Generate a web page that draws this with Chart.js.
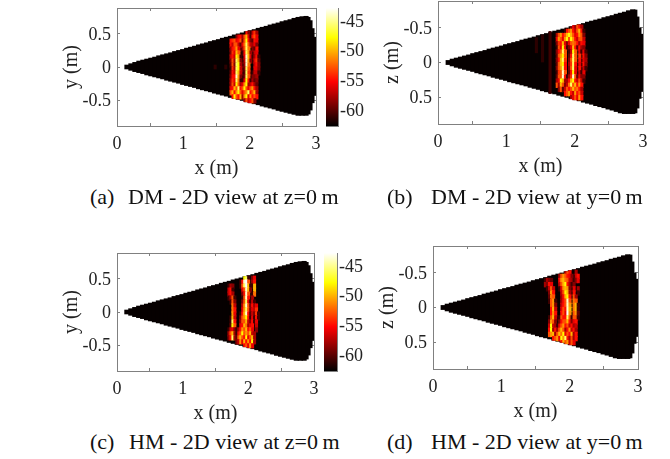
<!DOCTYPE html>
<html><head><meta charset="utf-8">
<style>
html,body{margin:0;padding:0;background:#fff;width:670px;height:459px;overflow:hidden}
canvas{position:absolute;display:block}
.cap{position:absolute;font:22px "Liberation Serif",serif;color:#111;white-space:pre;line-height:24px}
</style>
<script src="https://cdn.jsdelivr.net/npm/chart.js@4"></script>
</head><body>
<script>
// ---- data ----
const xTicks=[0,1,2,3];
const yTicks=[-0.5,0,0.5];
const cbTicks=[-60,-55,-50,-45];
const cbMin=-62.8, cbMax=-42.9;
const coneX=[0.15,0.21,0.27,0.33,0.39,0.45,0.51,0.57,0.63,0.69,0.75,0.81,0.87,0.93,0.99,1.05,1.11,1.17,1.23,1.29,1.35,1.41,1.47,1.53,1.59,1.65,1.71,1.77,1.83,1.89,1.95,2.01,2.07,2.13,2.19,2.25,2.31,2.37,2.43,2.49,2.55,2.61,2.67,2.73,2.79,2.85];
const coneUpperXY=[.03,.05,.07,.09,.105,.12,.135,.15,.17,.185,.20,.215,.235,.25,.265,.285,.30,.315,.335,.35,.365,.385,.40,.415,.435,.45,.465,.485,.50,.515,.535,.55,.565,.585,.60,.615,.635,.65,.665,.685,.70,.715,.735,.75,.76,.765];
const coneLowerXY=[.03,.05,.07,.085,.10,.12,.135,.15,.165,.18,.20,.215,.23,.245,.265,.28,.295,.31,.33,.345,.36,.375,.395,.41,.425,.44,.46,.475,.49,.505,.525,.54,.555,.57,.59,.605,.62,.635,.655,.67,.685,.70,.715,.73,.73,.73];
const coneUpperXZ=[.03,.05,.065,.08,.095,.11,.13,.145,.16,.175,.195,.21,.225,.24,.26,.275,.29,.305,.325,.34,.355,.37,.39,.405,.42,.435,.455,.47,.485,.50,.52,.535,.55,.565,.585,.60,.615,.63,.65,.665,.68,.70,.715,.73,.75,.765];
const coneLowerXZ=[.03,.05,.07,.085,.10,.115,.13,.15,.165,.18,.195,.215,.23,.245,.26,.28,.295,.31,.325,.34,.36,.375,.39,.41,.425,.44,.455,.475,.49,.505,.525,.54,.555,.575,.59,.605,.625,.64,.655,.675,.69,.71,.73,.74,.74,.74];
const tailX=[2.895,2.925,2.955,2.985];
const tailUpperXY=[.75,.70,.58,.45];
const tailLowerXY=[.71,.65,.54,.43];
const tailUpperXZ=[.76,.66,.50,.41];
const tailLowerXZ=[.73,.66,.52,.42];
const hotA=[
[-62,-62,-62,-62,-62,-62,-62,-62,-62,-55,-59,-62,-57,-54,-58,-62],
[-62,-62,-62,-62,-59,-56,-55,-58,-53,-50,-56,-61,-55,-53,-56,-62],
[-62,-55,-54,-53,-56,-55,-53,-59,-53,-48,-55,-59,-60,-55,-56,-62],
[-62,-55,-57,-53,-53,-57,-60,-56,-52,-46,-53,-57,-58,-56,-59,-62],
[-62,-58,-55,-54,-51,-56,-62,-58,-53,-46,-52,-62,-59,-60,-55,-62],
[-62,-59,-54,-56,-50,-53,-62,-61,-55,-46,-51,-58,-62,-57,-56,-62],
[-62,-57,-55,-57,-48,-51,-61,-62,-56,-44,-50,-56,-61,-58,-55,-61],
[-62,-59,-53,-58,-46,-50,-59,-62,-57,-44,-51,-59,-62,-56,-54,-60],
[-62,-60,-53,-59,-46,-48,-58,-62,-58,-44,-52,-62,-62,-57,-55,-59],
[-62,-61,-54,-58,-46,-48,-57,-62,-59,-46,-53,-62,-62,-56,-56,-59],
[-62,-60,-55,-57,-46,-50,-57,-62,-60,-46,-54,-62,-61,-57,-57,-61],
[-62,-59,-55,-55,-44,-51,-59,-62,-59,-46,-53,-62,-59,-59,-58,-62],
[-62,-58,-54,-56,-46,-52,-61,-61,-56,-48,-55,-61,-58,-60,-59,-62],
[-62,-58,-53,-57,-48,-53,-58,-56,-51,-48,-58,-57,-55,-58,-60,-62],
[-62,-56,-55,-50,-53,-46,-55,-53,-48,-53,-56,-53,-51,-55,-58,-62],
[-62,-53,-50,-55,-51,-48,-53,-56,-53,-51,-46,-55,-53,-50,-58,-62],
[-62,-62,-55,-48,-53,-55,-50,-58,-51,-48,-56,-51,-55,-53,-55,-62],
[-62,-62,-62,-62,-62,-62,-62,-62,-58,-53,-57,-55,-53,-59,-62,-62]];
const hotB=[
[-62,-62,-62,-62,-62,-62,-62,-62,-59,-56,-58,-53,-55,-58,-62,-62],
[-62,-62,-62,-62,-62,-61,-55,-53,-51,-55,-57,-53,-50,-55,-61,-62],
[-62,-58,-53,-51,-55,-53,-50,-48,-50,-53,-56,-55,-51,-53,-59,-62],
[-62,-56,-51,-53,-56,-51,-48,-53,-48,-51,-55,-57,-53,-53,-57,-62],
[-62,-59,-54,-55,-50,-56,-59,-56,-53,-52,-53,-55,-58,-55,-56,-62],
[-62,-61,-53,-56,-48,-55,-61,-59,-56,-50,-55,-60,-55,-58,-59,-62],
[-62,-59,-55,-53,-46,-53,-62,-61,-57,-48,-53,-62,-56,-61,-56,-61],
[-62,-60,-53,-51,-48,-53,-62,-60,-55,-46,-53,-62,-54,-62,-55,-59],
[-62,-59,-55,-50,-46,-54,-62,-59,-53,-46,-53,-62,-55,-62,-56,-58],
[-62,-60,-53,-50,-48,-55,-62,-58,-54,-46,-55,-62,-56,-62,-55,-59],
[-62,-59,-53,-51,-46,-55,-62,-59,-53,-46,-56,-62,-55,-62,-57,-61],
[-62,-61,-54,-53,-44,-53,-62,-60,-55,-48,-56,-62,-57,-61,-56,-62],
[-62,-60,-53,-53,-44,-55,-61,-58,-54,-44,-53,-60,-56,-59,-59,-62],
[-62,-58,-56,-48,-50,-58,-58,-55,-50,-48,-55,-57,-53,-57,-61,-62],
[-62,-53,-58,-50,-53,-59,-57,-52,-46,-53,-50,-55,-51,-55,-62,-62],
[-62,-62,-59,-53,-60,-57,-53,-55,-53,-50,-53,-52,-55,-58,-62,-62],
[-62,-62,-62,-62,-62,-55,-53,-51,-55,-57,-51,-55,-53,-57,-62,-62],
[-62,-62,-62,-62,-62,-62,-62,-62,-58,-56,-53,-56,-51,-55,-62,-62]];
const hotC=[
[-62,-62,-62,-62,-62,-62,-62,-62,-62,-48,-46,-61,-62,-59,-56,-62,-62],
[-62,-62,-62,-62,-62,-62,-62,-61,-55,-44,-43,-53,-62,-58,-55,-62,-62],
[-62,-61,-58,-59,-62,-62,-62,-61,-53,-46,-43,-50,-61,-61,-50,-62,-62],
[-62,-57,-55,-61,-62,-62,-62,-62,-56,-53,-44,-50,-59,-62,-50,-62,-62],
[-62,-57,-55,-58,-62,-62,-62,-62,-59,-55,-44,-53,-62,-61,-52,-62,-62],
[-62,-61,-58,-53,-61,-62,-62,-62,-61,-53,-44,-55,-62,-58,-62,-62,-62],
[-62,-62,-61,-53,-59,-62,-62,-62,-59,-53,-46,-56,-61,-57,-61,-62,-62],
[-62,-62,-62,-52,-57,-62,-62,-62,-57,-51,-44,-53,-59,-55,-58,-56,-62],
[-62,-62,-62,-52,-55,-62,-62,-62,-56,-51,-46,-53,-59,-56,-57,-54,-62],
[-62,-62,-62,-51,-56,-62,-62,-61,-55,-50,-44,-55,-60,-57,-59,-54,-61],
[-62,-62,-61,-50,-57,-62,-62,-59,-53,-51,-48,-55,-61,-56,-61,-55,-61],
[-62,-62,-61,-46,-55,-62,-62,-58,-53,-53,-50,-57,-59,-55,-61,-56,-62],
[-62,-62,-60,-48,-53,-62,-62,-56,-55,-50,-52,-58,-56,-55,-62,-57,-62],
[-62,-61,-57,-56,-59,-61,-58,-55,-51,-53,-50,-55,-53,-56,-62,-59,-62],
[-62,-58,-53,-50,-58,-61,-55,-53,-48,-53,-51,-53,-50,-57,-58,-62,-62],
[-62,-59,-55,-46,-58,-60,-53,-50,-53,-55,-48,-56,-53,-50,-58,-62,-62],
[-62,-62,-62,-62,-62,-59,-57,-51,-56,-50,-55,-51,-55,-48,-58,-62,-62],
[-62,-62,-62,-62,-62,-62,-62,-62,-62,-55,-53,-56,-51,-56,-62,-62,-62]];
const hotD=[
[-62,-62,-62,-62,-62,-62,-62,-62,-62,-62,-62,-57,-53,-55,-62,-62,-58,-62,-62],
[-62,-62,-62,-62,-62,-62,-62,-62,-58,-53,-51,-53,-55,-56,-59,-62,-57,-55,-62],
[-62,-61,-58,-59,-60,-62,-62,-62,-55,-51,-50,-52,-53,-57,-58,-61,-59,-56,-62],
[-62,-58,-59,-55,-56,-62,-62,-62,-57,-53,-50,-48,-55,-58,-61,-59,-62,-62,-62],
[-62,-62,-61,-57,-53,-57,-62,-62,-61,-56,-51,-50,-51,-59,-62,-56,-62,-58,-62],
[-62,-62,-62,-59,-51,-55,-62,-62,-62,-57,-53,-48,-50,-58,-62,-55,-62,-61,-62],
[-62,-62,-62,-60,-52,-53,-62,-62,-62,-58,-55,-50,-48,-55,-62,-53,-58,-62,-62],
[-62,-62,-62,-61,-53,-51,-61,-62,-62,-58,-55,-53,-44,-53,-62,-52,-53,-62,-62],
[-62,-62,-62,-62,-53,-51,-59,-62,-62,-57,-55,-53,-44,-51,-62,-52,-50,-61,-62],
[-62,-62,-62,-62,-55,-50,-57,-62,-62,-56,-53,-55,-44,-50,-62,-52,-50,-61,-62],
[-62,-62,-62,-62,-55,-51,-55,-62,-62,-55,-53,-56,-43,-51,-62,-53,-51,-60,-62],
[-62,-62,-62,-61,-53,-50,-57,-62,-61,-53,-55,-55,-46,-53,-61,-53,-53,-61,-62],
[-62,-62,-62,-59,-51,-53,-59,-62,-59,-55,-53,-53,-50,-55,-59,-56,-55,-62,-62],
[-62,-62,-62,-57,-48,-57,-58,-61,-56,-53,-51,-55,-53,-57,-55,-58,-57,-62,-62],
[-62,-62,-62,-55,-48,-58,-55,-58,-53,-50,-53,-58,-55,-51,-57,-55,-58,-62,-62],
[-62,-62,-62,-53,-51,-50,-58,-53,-50,-52,-48,-56,-53,-55,-50,-58,-55,-62,-62],
[-62,-62,-62,-62,-62,-55,-53,-51,-56,-48,-51,-46,-55,-58,-53,-58,-55,-62,-62],
[-62,-62,-62,-62,-62,-62,-62,-62,-62,-55,-50,-53,-51,-57,-53,-56,-62,-62,-62]];
const faintA=[[1.48,-0.03,0.03,-61.5],[1.64,-0.03,0.03,-61.5]];
const faintB=[[1.44,-0.36,-0.14,-61.5],[1.53,-0.40,0.00,-61.5],[1.64,-0.45,0.45,-61]];
const captions=[
 {tag:"(a)",text:"DM - 2D view at z=0\u2009m",tx:90,x:128,y:197},
 {tag:"(b)",text:"DM - 2D view at y=0\u2009m",tx:387,x:431,y:197},
 {tag:"(c)",text:"HM - 2D view at z=0\u2009m",tx:90,x:129,y:442},
 {tag:"(d)",text:"HM - 2D view at y=0\u2009m",tx:387,x:431,y:442}];
// ---- layout & style ----
const serif='"Liberation Serif",serif', FRAME='#808080', INK='#222', CONE='#060000';
const TICK=18, TITLE=20, PL=60, PT=5, PR=12, PB=55;
const rowTop=0.54,rowStep=0.06,colStep=0.03,floorDb=-62,seam=0.004;
const panels=[
 {l:117,t:8,r:316,b:126,yLabel:'y (m)',rev:false,hot:hotA,x0:1.674,up:coneUpperXY,lo:coneLowerXY,tu:tailUpperXY,tl:tailLowerXY,faint:faintA},
 {l:438,t:1,r:643,b:124,yLabel:'z (m)',rev:true,hot:hotB,x0:1.70,up:coneUpperXZ,lo:coneLowerXZ,tu:tailUpperXZ,tl:tailLowerXZ,faint:faintB},
 {l:117,t:253,r:314,b:371,yLabel:'y (m)',rev:false,hot:hotC,x0:1.66,up:coneUpperXY,lo:coneLowerXY,tu:tailUpperXY,tl:tailLowerXY,faint:[]},
 {l:433,t:246,r:638,b:369,yLabel:'z (m)',rev:true,hot:hotD,x0:1.60,up:coneUpperXZ,lo:coneLowerXZ,tu:tailUpperXZ,tl:tailLowerXZ,faint:[]}];
const colorbars=[{l:326,t:8,r:338,b:126},{l:324,t:253,r:337,b:371}];

function hot(v){
  const t=Math.max(0,Math.min(1,(v-cbMin)/(cbMax-cbMin)));
  const r=Math.min(1,t/0.375),g=Math.max(0,Math.min(1,(t-0.375)/0.375)),b=Math.max(0,(t-0.75)/0.25);
  return `rgb(${Math.round(r*255)},${Math.round(g*255)},${Math.round(b*255)})`;
}
function addCanvas(l,t,w,h){
  const c=document.createElement('canvas');
  c.width=w;c.height=h;c.style.left=l+'px';c.style.top=t+'px';c.style.width=w+'px';c.style.height=h+'px';
  document.body.appendChild(c);return c.getContext('2d');
}
const setTicks=a=>s=>{s.ticks=a.map(v=>({value:v}));};
const noPad=a=>{a.paddingTop=0;a.paddingBottom=0;a.paddingLeft=0;a.paddingRight=0;};
const edgeAxis=(pos,min,max,ticks,rev)=>({
  type:'linear',position:pos,min,max,reverse:!!rev,offset:false,
  afterBuildTicks:setTicks(ticks),
  afterFit:s=>{noPad(s);if(pos==='top'||pos==='bottom')s.height=0;else s.width=0;},
  ticks:{display:false},
  border:{color:FRAME,width:1},
  grid:{drawOnChartArea:false,drawTicks:true,tickLength:-3,color:FRAME,tickWidth:1}
});
const fmt=v=>String(v);
panels.forEach(p=>{
  const fw=p.r-p.l,fh=p.b-p.t,pxPerM=fw/3,s=p.rev?-1:1;
  const ctx=addCanvas(p.l-PL,p.t-PT,fw+PL+PR,fh+PT+PB);
  const cone=coneX.map((x,i)=>({x,y:[-s*p.lo[i],s*p.up[i]]}));
  const cells=tailX.map((x,i)=>({x,y:[-s*p.tl[i],s*p.tu[i]],v:null}));
  p.hot.forEach((row,r)=>row.forEach((v,c)=>{
    if(v<=floorDb)return;
    const x=p.x0+colStep*(c+0.5);
    const i=Math.round((x-coneX[0])/0.06);
    const u=Math.min(rowTop-rowStep*r+seam,p.up[i]);
    const l=Math.max(rowTop-rowStep*(r+1)-seam,-p.lo[i]);
    if(u>l)cells.push({x,y:[s*l,s*u],v});
  }));
  p.faint.forEach(f=>cells.push({x:f[0],y:[f[1],f[2]],v:f[3]}));
  new Chart(ctx,{
    type:'bar',
    data:{datasets:[
      {label:'return',order:1,data:cells,grouped:false,barThickness:colStep*pxPerM+0.4,
       backgroundColor:c=>(c.raw&&c.raw.v!==null)?hot(c.raw.v):CONE},
      {label:'cone',order:2,data:cone,grouped:false,barThickness:0.06*pxPerM+0.5,backgroundColor:CONE}
    ]},
    options:{
      responsive:false,animation:false,events:[],
      layout:{padding:{left:0,top:PT,right:PR,bottom:0}},
      plugins:{legend:{display:false},tooltip:{enabled:false},title:{display:false}},
      scales:{
        x:{type:'linear',position:'bottom',min:0,max:3,offset:false,
          afterBuildTicks:setTicks(xTicks),afterFit:a=>{noPad(a);a.height=PB;},
          ticks:{padding:10,maxRotation:0,color:INK,font:{family:serif,size:TICK},callback:fmt},
          border:{color:FRAME},
          grid:{drawOnChartArea:false,tickLength:-3,color:FRAME},
          title:{display:true,text:'x (m)',color:INK,font:{family:serif,size:TITLE},padding:{top:0,bottom:0}}},
        y:{type:'linear',position:'left',min:-0.89,max:0.89,reverse:p.rev,offset:false,
          afterBuildTicks:setTicks(yTicks),afterFit:a=>{noPad(a);a.width=PL;},
          ticks:{padding:9,labelOffset:1,color:INK,font:{family:serif,size:TICK},callback:fmt},
          border:{color:FRAME},
          grid:{drawOnChartArea:false,tickLength:-3,color:FRAME},
          title:{display:true,text:p.yLabel,color:INK,font:{family:serif,size:TITLE},padding:{top:3,bottom:0}}},
        xTop:edgeAxis('top',0,3,xTicks),
        yRight:edgeAxis('right',-0.89,0.89,yTicks,p.rev)
      }
    }
  });
});
colorbars.forEach(b=>{
  const w=b.r-b.l,h=b.b-b.t,RW=40;
  const ctx=addCanvas(b.l,b.t-PT,w+RW+2,h+2*PT);
  new Chart(ctx,{
    type:'bar',
    data:{datasets:[{label:'colorbar',data:[{x:0.5,y:[cbMin,cbMax]}],barThickness:w,xAxisID:'x',yAxisID:'y',
      backgroundColor:c=>{
        const a=c.chart.chartArea;if(!a)return '#000';
        const g=c.chart.ctx.createLinearGradient(0,a.bottom,0,a.top);
        g.addColorStop(0,hot(cbMin));g.addColorStop(0.375,hot(cbMin+0.375*(cbMax-cbMin)));
        g.addColorStop(0.75,hot(cbMin+0.75*(cbMax-cbMin)));g.addColorStop(1,hot(cbMax));
        return g;
      }}]},
    options:{
      responsive:false,animation:false,events:[],
      layout:{padding:{left:0,top:PT,right:2,bottom:PT}},
      plugins:{legend:{display:false},tooltip:{enabled:false}},
      scales:{
        x:{...edgeAxis('bottom',0,1,[]),grid:{drawOnChartArea:false,drawTicks:false}},
        xTop:{...edgeAxis('top',0,1,[]),grid:{drawOnChartArea:false,drawTicks:false}},
        yLeft:{...edgeAxis('left',cbMin,cbMax,[]),grid:{drawOnChartArea:false,drawTicks:false}},
        y:{type:'linear',position:'right',min:cbMin,max:cbMax,offset:false,
          afterBuildTicks:setTicks(cbTicks),afterFit:a=>{noPad(a);a.width=RW;},
          ticks:{padding:5,labelOffset:1.5,color:INK,font:{family:serif,size:TICK},callback:fmt},
          border:{color:FRAME},
          grid:{drawOnChartArea:false,tickLength:-3,color:FRAME}}
      }
    }
  });
});
captions.forEach(c=>{
  [[c.tag,c.tx],[c.text,c.x]].forEach(([t,x])=>{
    const d=document.createElement('div');d.className='cap';d.textContent=t;
    d.style.left=x+'px';d.style.top=(c.y-12)+'px';document.body.appendChild(d);
  });
});
</script>
</body></html>
